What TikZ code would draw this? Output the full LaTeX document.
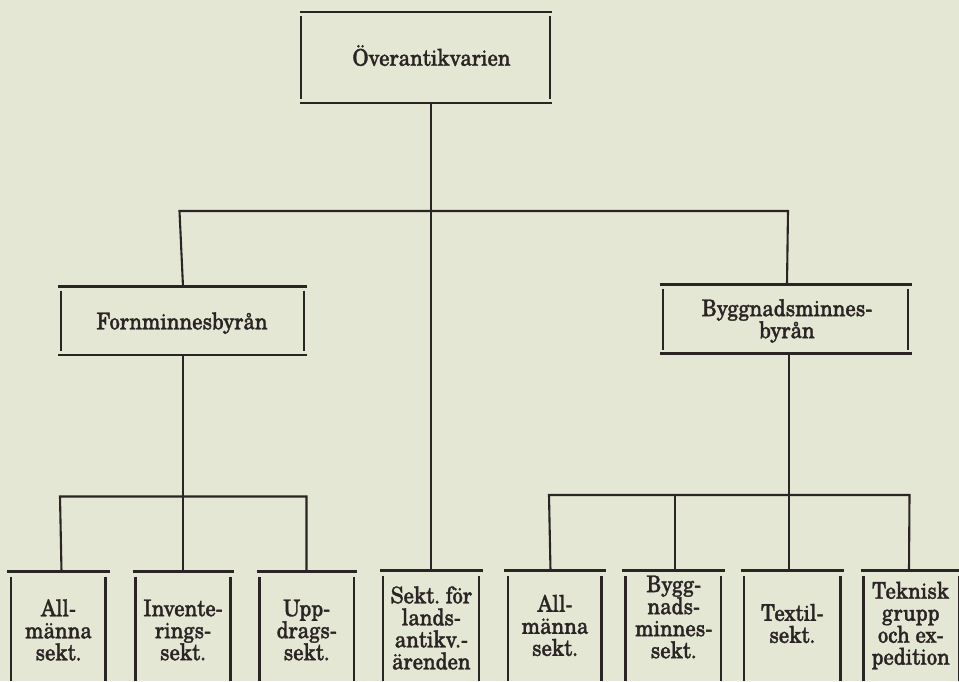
\documentclass[tikz,border=0pt]{standalone}
\usepackage{fontspec}
\setmainfont{texgyreschola-regular.otf}[FakeBold=1.4, FakeStretch=0.9]
\definecolor{paper}{RGB}{229,231,213}
\definecolor{ink}{RGB}{42,36,36}
\tikzset{
  hl/.style={draw=ink, line width=2.8pt},
  vl/.style={draw=ink, line width=2.1pt},
  conn/.style={draw=ink, line width=2.1pt},
  framenode/.style={rectangle, draw=none, inner sep=0pt, outer sep=0pt},
  lbl/.style={text=ink, font=\fontsize{23}{22}\selectfont, align=center, inner sep=0pt},
}
% closed frame: name, x1, x2, ytop, ybot, side inset
\newcommand\orgframe[6]{%
  \node[framenode, minimum width={#3-#2}, minimum height={#5-#4}] (#1) at ({(#2+#3)/2},{(#4+#5)/2}) {};
  \draw[hl] (#1.north west) -- (#1.north east);
  \draw[hl] (#1.south west) -- (#1.south east);
  \draw[vl] ([xshift=#6pt,yshift=-4pt]#1.north west) -- ([xshift=#6pt,yshift=4pt]#1.south west);
  \draw[vl] ([xshift=-#6pt,yshift=-4pt]#1.north east) -- ([xshift=-#6pt,yshift=4pt]#1.south east);
}
% open frame (runs off the bottom of the page): name, x1, x2, ytop, side inset
\newcommand\openframe[5]{%
  \node[framenode, minimum width={#3-#2}, minimum height={681-#4}] (#1) at ({(#2+#3)/2},{(#4+681)/2}) {};
  \draw[hl] (#1.north west) -- (#1.north east);
  \draw[vl] ([xshift=#5pt,yshift=-5pt]#1.north west) -- ([xshift=#5pt]#1.south west);
  \draw[vl] ([xshift=-#5pt,yshift=-5pt]#1.north east) -- ([xshift=-#5pt]#1.south east);
}
\begin{document}
\begin{tikzpicture}[x=1pt,y=-1pt]
\fill[paper] (0,0) rectangle (959,681);
\useasboundingbox (0,0) rectangle (959,681);

% frames
\orgframe{top}{299.5}{551.5}{12}{103}{1.5}
\orgframe{forn}{58}{307}{286.5}{355}{3}
\orgframe{bygg}{659.5}{911.5}{284.5}{353.5}{3.5}
\openframe{b1}{7}{109.5}{571.5}{4}
\openframe{b2}{132.5}{233.5}{571.5}{3}
\openframe{b3}{256.5}{357}{571.5}{3}
\openframe{b4}{380}{482.5}{570.7}{3.3}
\openframe{b5}{504}{605.5}{570.5}{4}
\openframe{b6}{622}{724.5}{570.5}{3.5}
\openframe{b7}{740.5}{844}{570.5}{3.5}
\openframe{b8}{860.5}{962}{570.5}{3}

% labels
\node[lbl, anchor=base] (t0) at (431.5,65.7) {Överantikvarien};
\node[lbl, anchor=base] (tF) at (182,329.3) {Fornminnesbyrån};
\node[lbl] (tB) at (787,321) {Byggnadsminnes-\\byrån};
\node[lbl] (t1) at (58.5,630) {All-\\männa\\sekt.};
\node[lbl] (t2) at (183,630) {Invente-\\rings-\\sekt.};
\node[lbl] (t3) at (306.7,630) {Upp-\\drags-\\sekt.};
\node[lbl] (t4) at (431.3,628) {Sekt.\ för\\lands-\\antikv.-\\ärenden};
\node[lbl] (t5) at (555,625.5) {All-\\männa\\sekt.};
\node[lbl] (t6) at (673.7,617) {Bygg-\\nads-\\minnes-\\sekt.};
\node[lbl] (t7) at (792.3,623.5) {Textil-\\sekt.};
\node[lbl] (t8) at (910.7,625.5) {Teknisk\\grupp\\och ex-\\pedition};

% junction coordinates
\coordinate (jT) at (431,211);
\coordinate (busL) at (183,211);
\coordinate (busR) at (787,211);
\coordinate (subL1) at (61.5,496.5);
\coordinate (subL2) at (183,496.5);
\coordinate (subL3) at (306.5,496.5);
\coordinate (subR1) at (550.5,495);
\coordinate (subR2) at (675,495);
\coordinate (subR3) at (789,495);
\coordinate (subR4) at (909,495);

% connectors
\draw[conn] (jT |- top.south) -- (jT);
\draw[conn] (busL |- forn.north) -- ([xshift=-3.5pt]busL) -- ([xshift=1pt]busR) -- (busR |- bygg.north);
\draw[conn] (jT) -- (jT |- b4.north);
% left branch
\draw[conn] (subL2 |- forn.south) -- (subL2 |- b2.north);
\draw[conn] (subL1 |- b1.north) -- ([xshift=-1.5pt]subL1) -- (subL3) -- (subL3 |- b3.north);
% right branch
\draw[conn] (subR3 |- bygg.south) -- (subR3 |- b7.north);
\draw[conn] (subR1 |- b5.north) -- ([xshift=-1.5pt]subR1) -- ([xshift=0.5pt]subR4) -- (subR4 |- b8.north);
\draw[conn] (subR2) -- (subR2 |- b6.north);
\end{tikzpicture}
\end{document}
